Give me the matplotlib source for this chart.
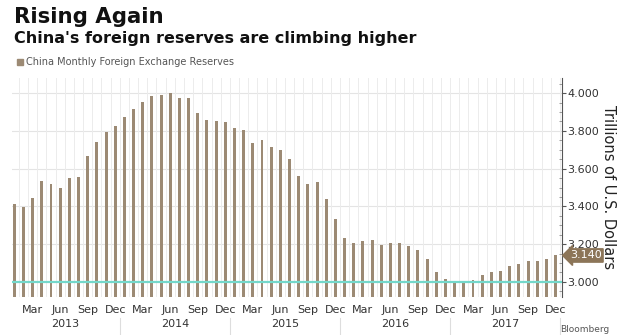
import numpy as np
import matplotlib.pyplot as plt
import matplotlib.transforms as mtransforms
from matplotlib.lines import Line2D

# monthly reserves, Jan 2013 .. Dec 2017 (trillions USD)
reserves = [3.413, 3.399, 3.445, 3.537, 3.519, 3.498, 3.551, 3.557, 3.665, 3.741, 3.793, 3.826,
            3.871, 3.918, 3.952, 3.984, 3.991, 3.998, 3.972, 3.973, 3.892, 3.858, 3.851, 3.849,
            3.817, 3.805, 3.736, 3.752, 3.714, 3.697, 3.652, 3.560, 3.519, 3.527, 3.440, 3.333,
            3.234, 3.206, 3.215, 3.220, 3.195, 3.207, 3.206, 3.191, 3.170, 3.122, 3.055, 3.014,
            3.002, 3.006, 3.011, 3.034, 3.055, 3.060, 3.082, 3.096, 3.112, 3.112, 3.122, 3.140]
years = ["2013", "2014", "2015", "2016", "2017"]
quarter_months = ["Mar", "Jun", "Sep", "Dec"]
yticks = [3.0, 3.2, 3.4, 3.6, 3.8, 4.0]
last_value = reserves[-1]

bar_color = "#9c8a74"
teal = "#74d8cb"

fig = plt.figure(figsize=(6.3, 3.35), dpi=100)
ax = fig.add_axes([12 / 630, 1 - 297 / 335, 550 / 630, 219 / 335])

x = np.arange(len(reserves))
ax.bar(x, reserves, width=0.32, color=bar_color, zorder=3)
ax.axhline(3.0, color=teal, lw=1.6, zorder=4)

ax.set_xlim(-0.25, len(reserves) - 0.3)
ax.set_ylim(2.92, 4.08)

# grid
for v in yticks[1:]:
    ax.axhline(v, color="#e4e4e4", lw=0.8, zorder=1)
for i in range(len(reserves) + 1):
    ax.axvline(i - 0.5, color="#ececec", lw=0.7, zorder=1)

for s in ["left", "top", "bottom"]:
    ax.spines[s].set_visible(False)
ax.spines["right"].set_color("#555555")
ax.spines["right"].set_linewidth(0.8)

ax.yaxis.tick_right()
ax.set_yticks(yticks)
ax.set_yticklabels(["%.3f" % v for v in yticks], fontsize=8, color="#333333")
ax.set_yticks(np.arange(2.95, 4.08, 0.05), minor=True)
ax.tick_params(axis="y", which="major", direction="out", length=3, width=0.8,
               color="#555555", pad=1)
ax.tick_params(axis="y", which="minor", direction="in", length=2, width=0.5,
               color="#777777")

ax.yaxis.set_label_position("right")
ax.set_ylabel("Trillions of U.S. Dollars", rotation=270, fontsize=10.5,
              color="#222222", labelpad=12)

# x axis: quarter months + years
qpos = [i for i in range(len(reserves)) if i % 3 == 2]
ax.set_xticks(qpos)
ax.set_xticklabels([quarter_months[(i // 3) % 4] for i in qpos], fontsize=8,
                   color="#333333")
ax.tick_params(axis="x", length=0, pad=6)

trans = mtransforms.blended_transform_factory(ax.transData, ax.transAxes)
for k, yr in enumerate(years):
    ax.text(12 * k + 5.5, -0.125, yr, transform=trans, ha="center", va="center",
            fontsize=8, color="#333333")
for k in range(1, len(years) + 1):
    ax.add_line(Line2D([12 * k - 0.5] * 2, [-0.095, -0.2], transform=trans,
                       color="#dddddd", lw=0.8, clip_on=False))

# last value tag
tag = mtransforms.blended_transform_factory(ax.transAxes, ax.transData)
ax.text(1.014, last_value, "%.3f" % last_value, transform=tag, ha="left",
        va="center", fontsize=8, color="white", zorder=6,
        bbox=dict(boxstyle="larrow,pad=0.15", fc="#8c7558", ec="#8c7558"))

# titles and legend
fig.text(14 / 630, 1 - 17 / 335, "Rising Again", fontsize=15.3,
         fontweight="bold", va="center", color="#111111")
fig.text(14 / 630, 1 - 38 / 335, "China's foreign reserves are climbing higher",
         fontsize=11.5, fontweight="bold", va="center", color="#111111")
fig.patches.append(plt.Rectangle((17 / 630, 1 - 65 / 335), 6 / 630, 6 / 335,
                                 transform=fig.transFigure, color=bar_color))
fig.text(26 / 630, 1 - 62 / 335, "China Monthly Foreign Exchange Reserves",
         fontsize=7, va="center", color="#555555")
fig.text(560 / 630, 0.003, "Bloomberg", fontsize=6.5, va="bottom",
         color="#555555")

fig.savefig("out.png", dpi=100, facecolor="white")
